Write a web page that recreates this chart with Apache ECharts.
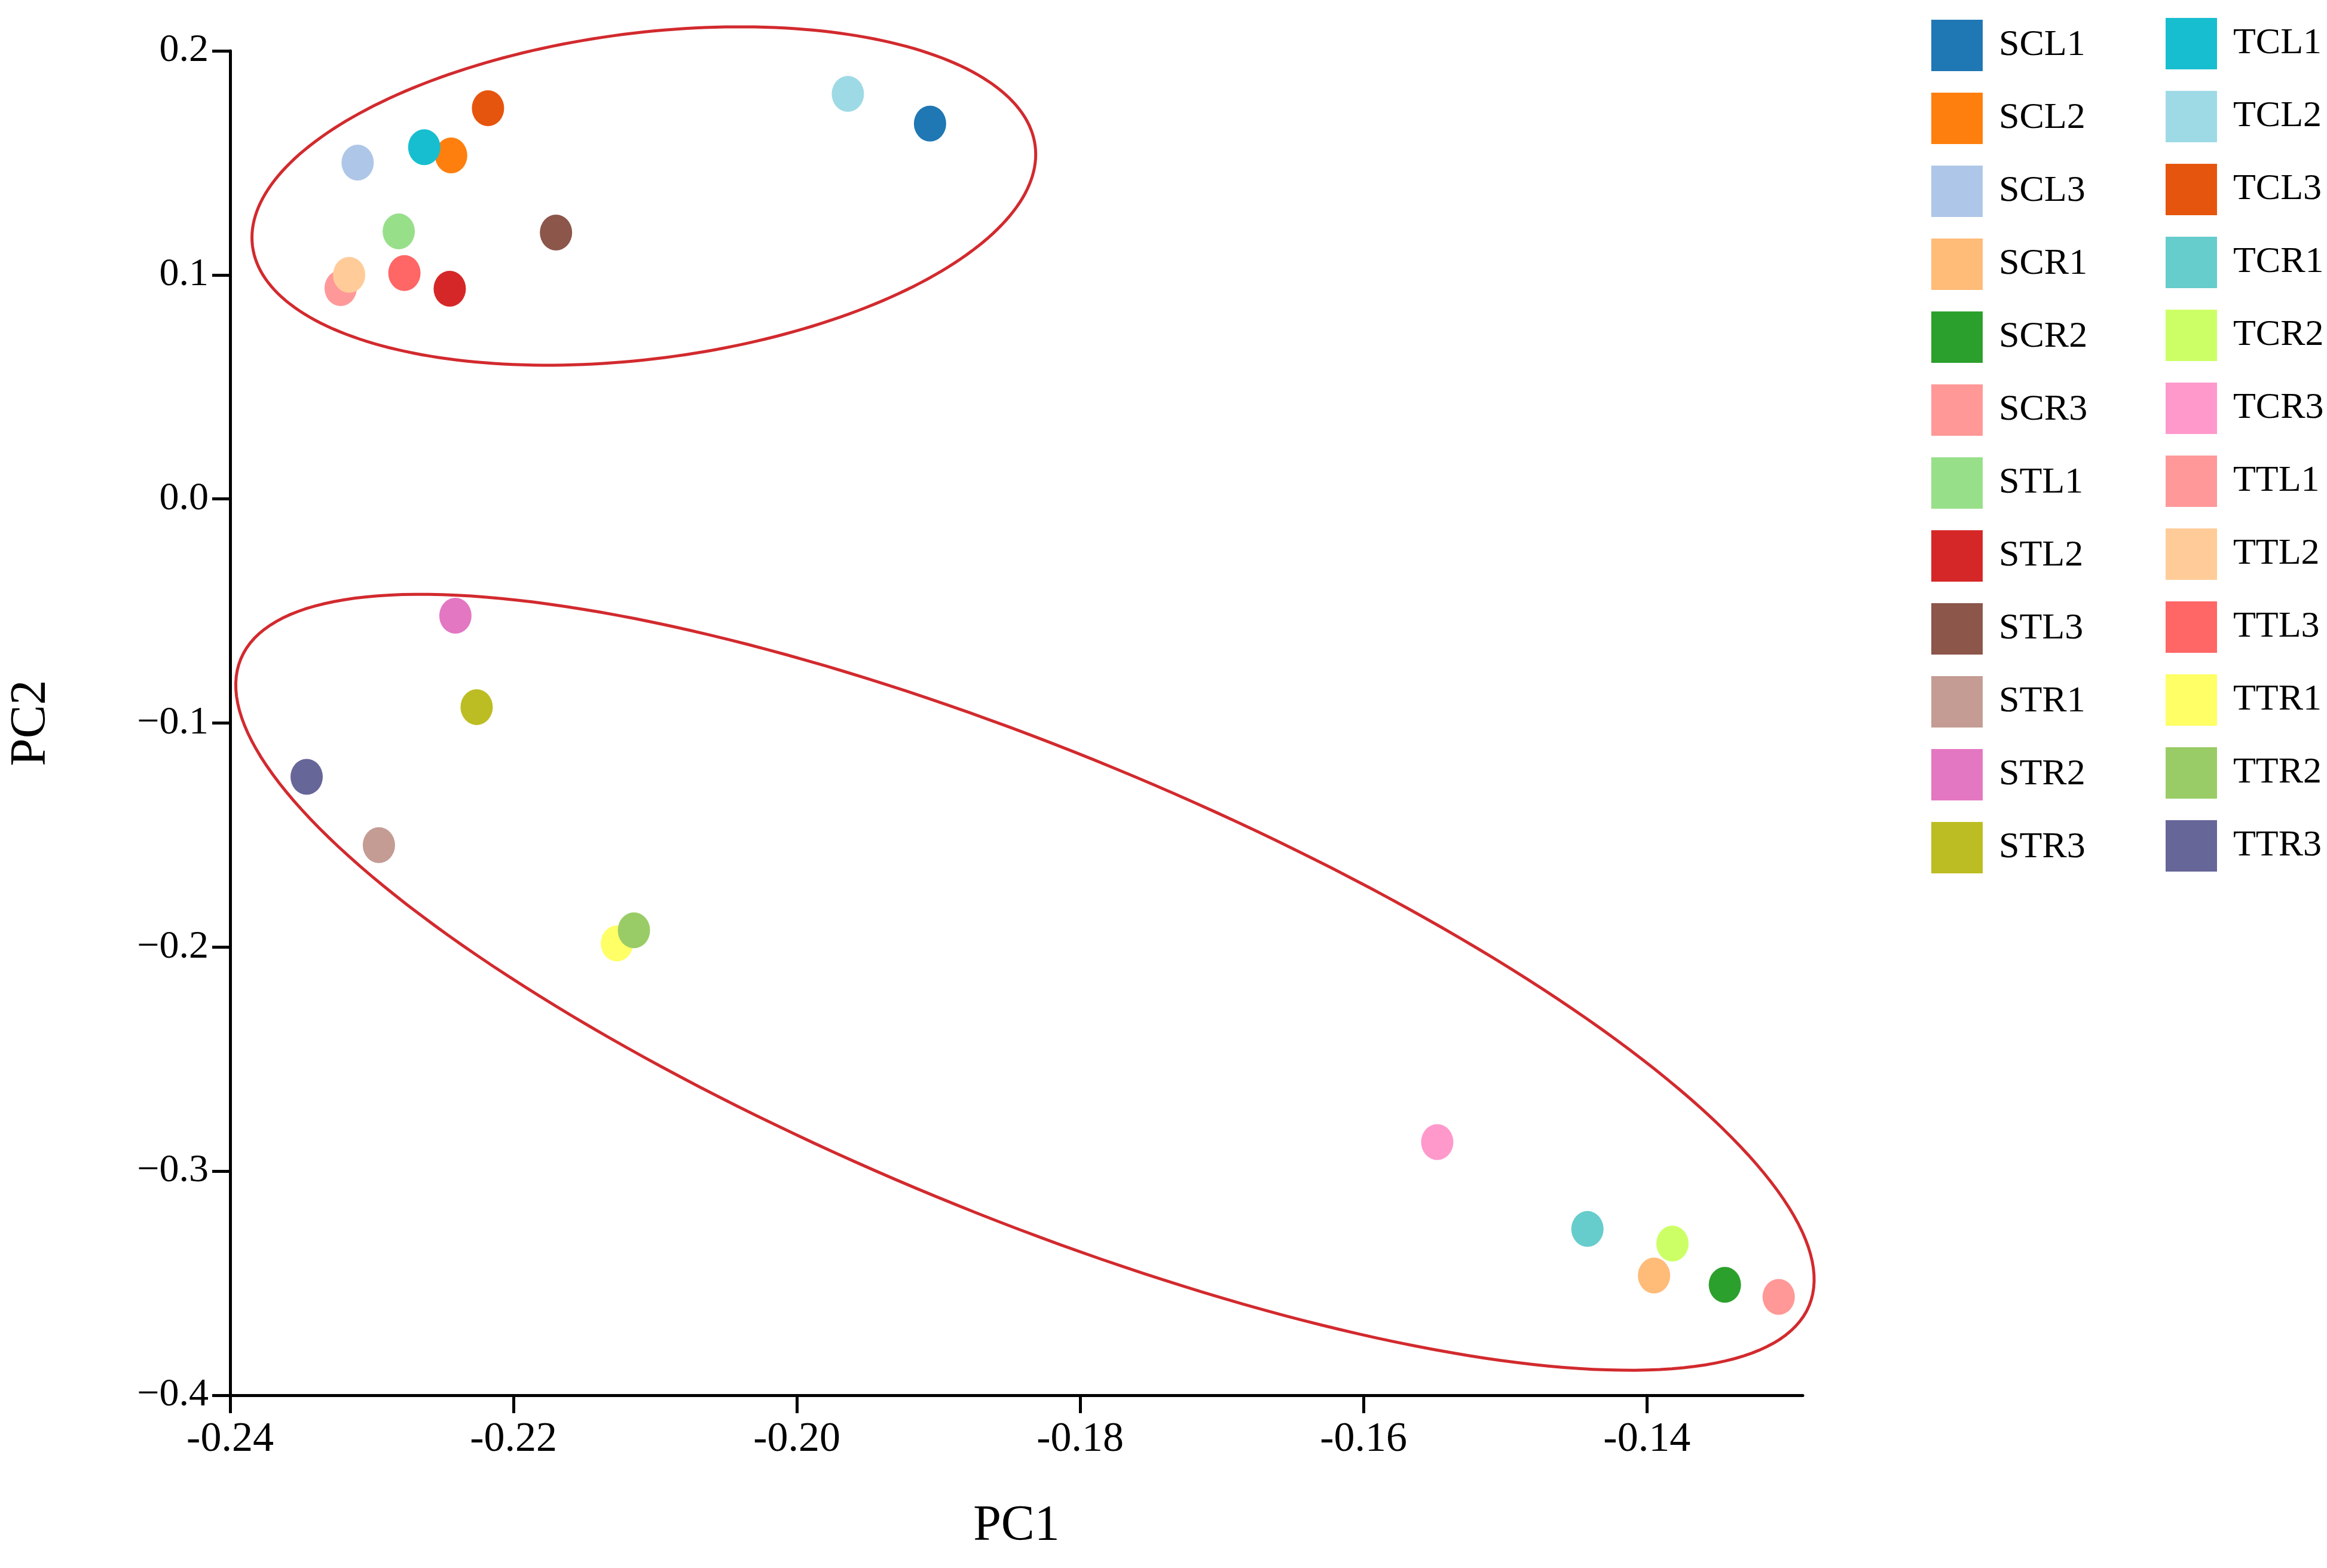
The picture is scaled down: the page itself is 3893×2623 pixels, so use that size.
<!DOCTYPE html>
<html lang="en">
<head>
    <meta charset="UTF-8">
    <title>PCA PC1 / PC2</title>
    <script src="https://cdn.jsdelivr.net/npm/echarts@6/dist/echarts.min.js"></script>
    <style>
        html, body { margin: 0; padding: 0; background: #fff; }
        #main { width: 3893px; height: 2623px; }
    </style>
</head>
<body>
    <div id="main"></div>
    <script>
        // sample names, in legend order
        var sampleNames = ['SCL1', 'SCL2', 'SCL3', 'SCR1', 'SCR2', 'SCR3',
            'STL1', 'STL2', 'STL3', 'STR1', 'STR2', 'STR3',
            'TCL1', 'TCL2', 'TCL3', 'TCR1', 'TCR2', 'TCR3',
            'TTL1', 'TTL2', 'TTL3', 'TTR1', 'TTR2', 'TTR3'];

        var sampleColors = ['#1f77b4', '#ff7f0e', '#aec7e8', '#ffbb78', '#2ca02c', '#ff9896',
            '#98df8a', '#d62728', '#8c564b', '#c49c94', '#e377c2', '#bcbd22',
            '#17becf', '#9edae5', '#e6550d', '#66cccc', '#ccff66', '#ff99cc',
            '#ff9999', '#ffcc99', '#ff6666', '#ffff66', '#99cc66', '#666699'];

        // scores
        var pc1 = [-0.1906, -0.2244, -0.2310, -0.1395, -0.1345, -0.1307,
            -0.2281, -0.2245, -0.2170, -0.2295, -0.2241, -0.2226,
            -0.2263, -0.1964, -0.2218, -0.1442, -0.1382, -0.1548,
            -0.2322, -0.2316, -0.2277, -0.2127, -0.2115, -0.2346];
        var pc2 = [0.1675, 0.1533, 0.1501, -0.3466, -0.3507, -0.3561,
            0.1194, 0.0938, 0.1189, -0.1545, -0.0521, -0.0929,
            0.1570, 0.1808, 0.1744, -0.3258, -0.3323, -0.2870,
            0.0941, 0.1000, 0.1008, -0.1984, -0.1925, -0.1240];

        // confidence ellipses: centre and the two semi-axis vectors, in data units
        var ellipseCenters = [[-0.2108, 0.1352], [-0.1839, -0.2157]];
        var ellipseMajor = [[0.02762, 0.02239], [0.05535, -0.14429]];
        var ellipseMinor = [[-0.00146, 0.07211], [-0.00625, -0.09570]];

        var xTicks = { min: -0.24, max: -0.129, step: 0.02 };
        var yTicks = { min: -0.4, max: 0.2, step: 0.1 };

        var font = 'Liberation Serif';

        var series = sampleNames.map(function (name, i) {
            return {
                name: name,
                type: 'scatter',
                symbol: 'circle',
                symbolSize: [54, 60],
                itemStyle: { color: sampleColors[i], opacity: 1 },
                data: [[pc1[i], pc2[i]]],
                z: 3
            };
        });

        series.push({
            type: 'custom',
            name: 'ellipse',
            silent: true,
            z: 2,
            encode: { x: 0, y: 1 },
            data: ellipseCenters,
            renderItem: function (params, api) {
                var k = params.dataIndex;
                var c = ellipseCenters[k], u = ellipseMajor[k], v = ellipseMinor[k];
                var pts = [];
                for (var s = 0; s < 240; s++) {
                    var t = s / 240 * Math.PI * 2;
                    var co = Math.cos(t), si = Math.sin(t);
                    pts.push(api.coord([c[0] + u[0] * co + v[0] * si, c[1] + u[1] * co + v[1] * si]));
                }
                return {
                    type: 'polygon',
                    shape: { points: pts },
                    style: { fill: 'none', stroke: '#d22a2e', lineWidth: 5 }
                };
            }
        });

        function legendBlock(names, left, top) {
            return {
                orient: 'vertical',
                left: left,
                top: top,
                itemWidth: 86,
                itemHeight: 86,
                itemGap: 36,
                icon: 'rect',
                selectedMode: false,
                data: names,
                textStyle: {
                    fontFamily: font,
                    fontSize: 62,
                    lineHeight: 62,
                    color: '#000',
                    padding: [22, 0, 0, 22]
                }
            };
        }

        var myChart = echarts.init(document.getElementById('main'));
        myChart.setOption({
            backgroundColor: '#fff',
            animation: false,
            grid: { left: 385, top: 85, right: 877, bottom: 289 },
            legend: [
                legendBlock(sampleNames.slice(0, 12), 3226, 28),
                legendBlock(sampleNames.slice(12), 3618, 25)
            ],
            xAxis: {
                type: 'value',
                min: xTicks.min,
                max: xTicks.max,
                interval: xTicks.step,
                name: 'PC1',
                nameLocation: 'middle',
                nameGap: 178,
                nameTextStyle: { fontFamily: font, fontSize: 84, color: '#000' },
                splitLine: { show: false },
                axisLine: { onZero: false, lineStyle: { color: '#000', width: 5 } },
                axisTick: { length: 30, lineStyle: { color: '#000', width: 5 } },
                axisLabel: {
                    fontFamily: font,
                    fontSize: 70,
                    color: '#000',
                    margin: 40,
                    showMaxLabel: false,
                    formatter: function (v) { return v.toFixed(2); }
                }
            },
            yAxis: {
                type: 'value',
                min: yTicks.min,
                max: yTicks.max,
                interval: yTicks.step,
                name: 'PC2',
                nameLocation: 'middle',
                nameGap: 290,
                nameTextStyle: { fontFamily: font, fontSize: 84, color: '#000' },
                splitLine: { show: false },
                axisLine: { onZero: false, lineStyle: { color: '#000', width: 5 } },
                axisTick: { length: 30, lineStyle: { color: '#000', width: 5 } },
                axisLabel: {
                    fontFamily: font,
                    fontSize: 66,
                    color: '#000',
                    margin: 36,
                    formatter: function (v) { return v.toFixed(1).replace('-', '\u2212'); }
                }
            },
            series: series
        });
    </script>
</body>
</html>
